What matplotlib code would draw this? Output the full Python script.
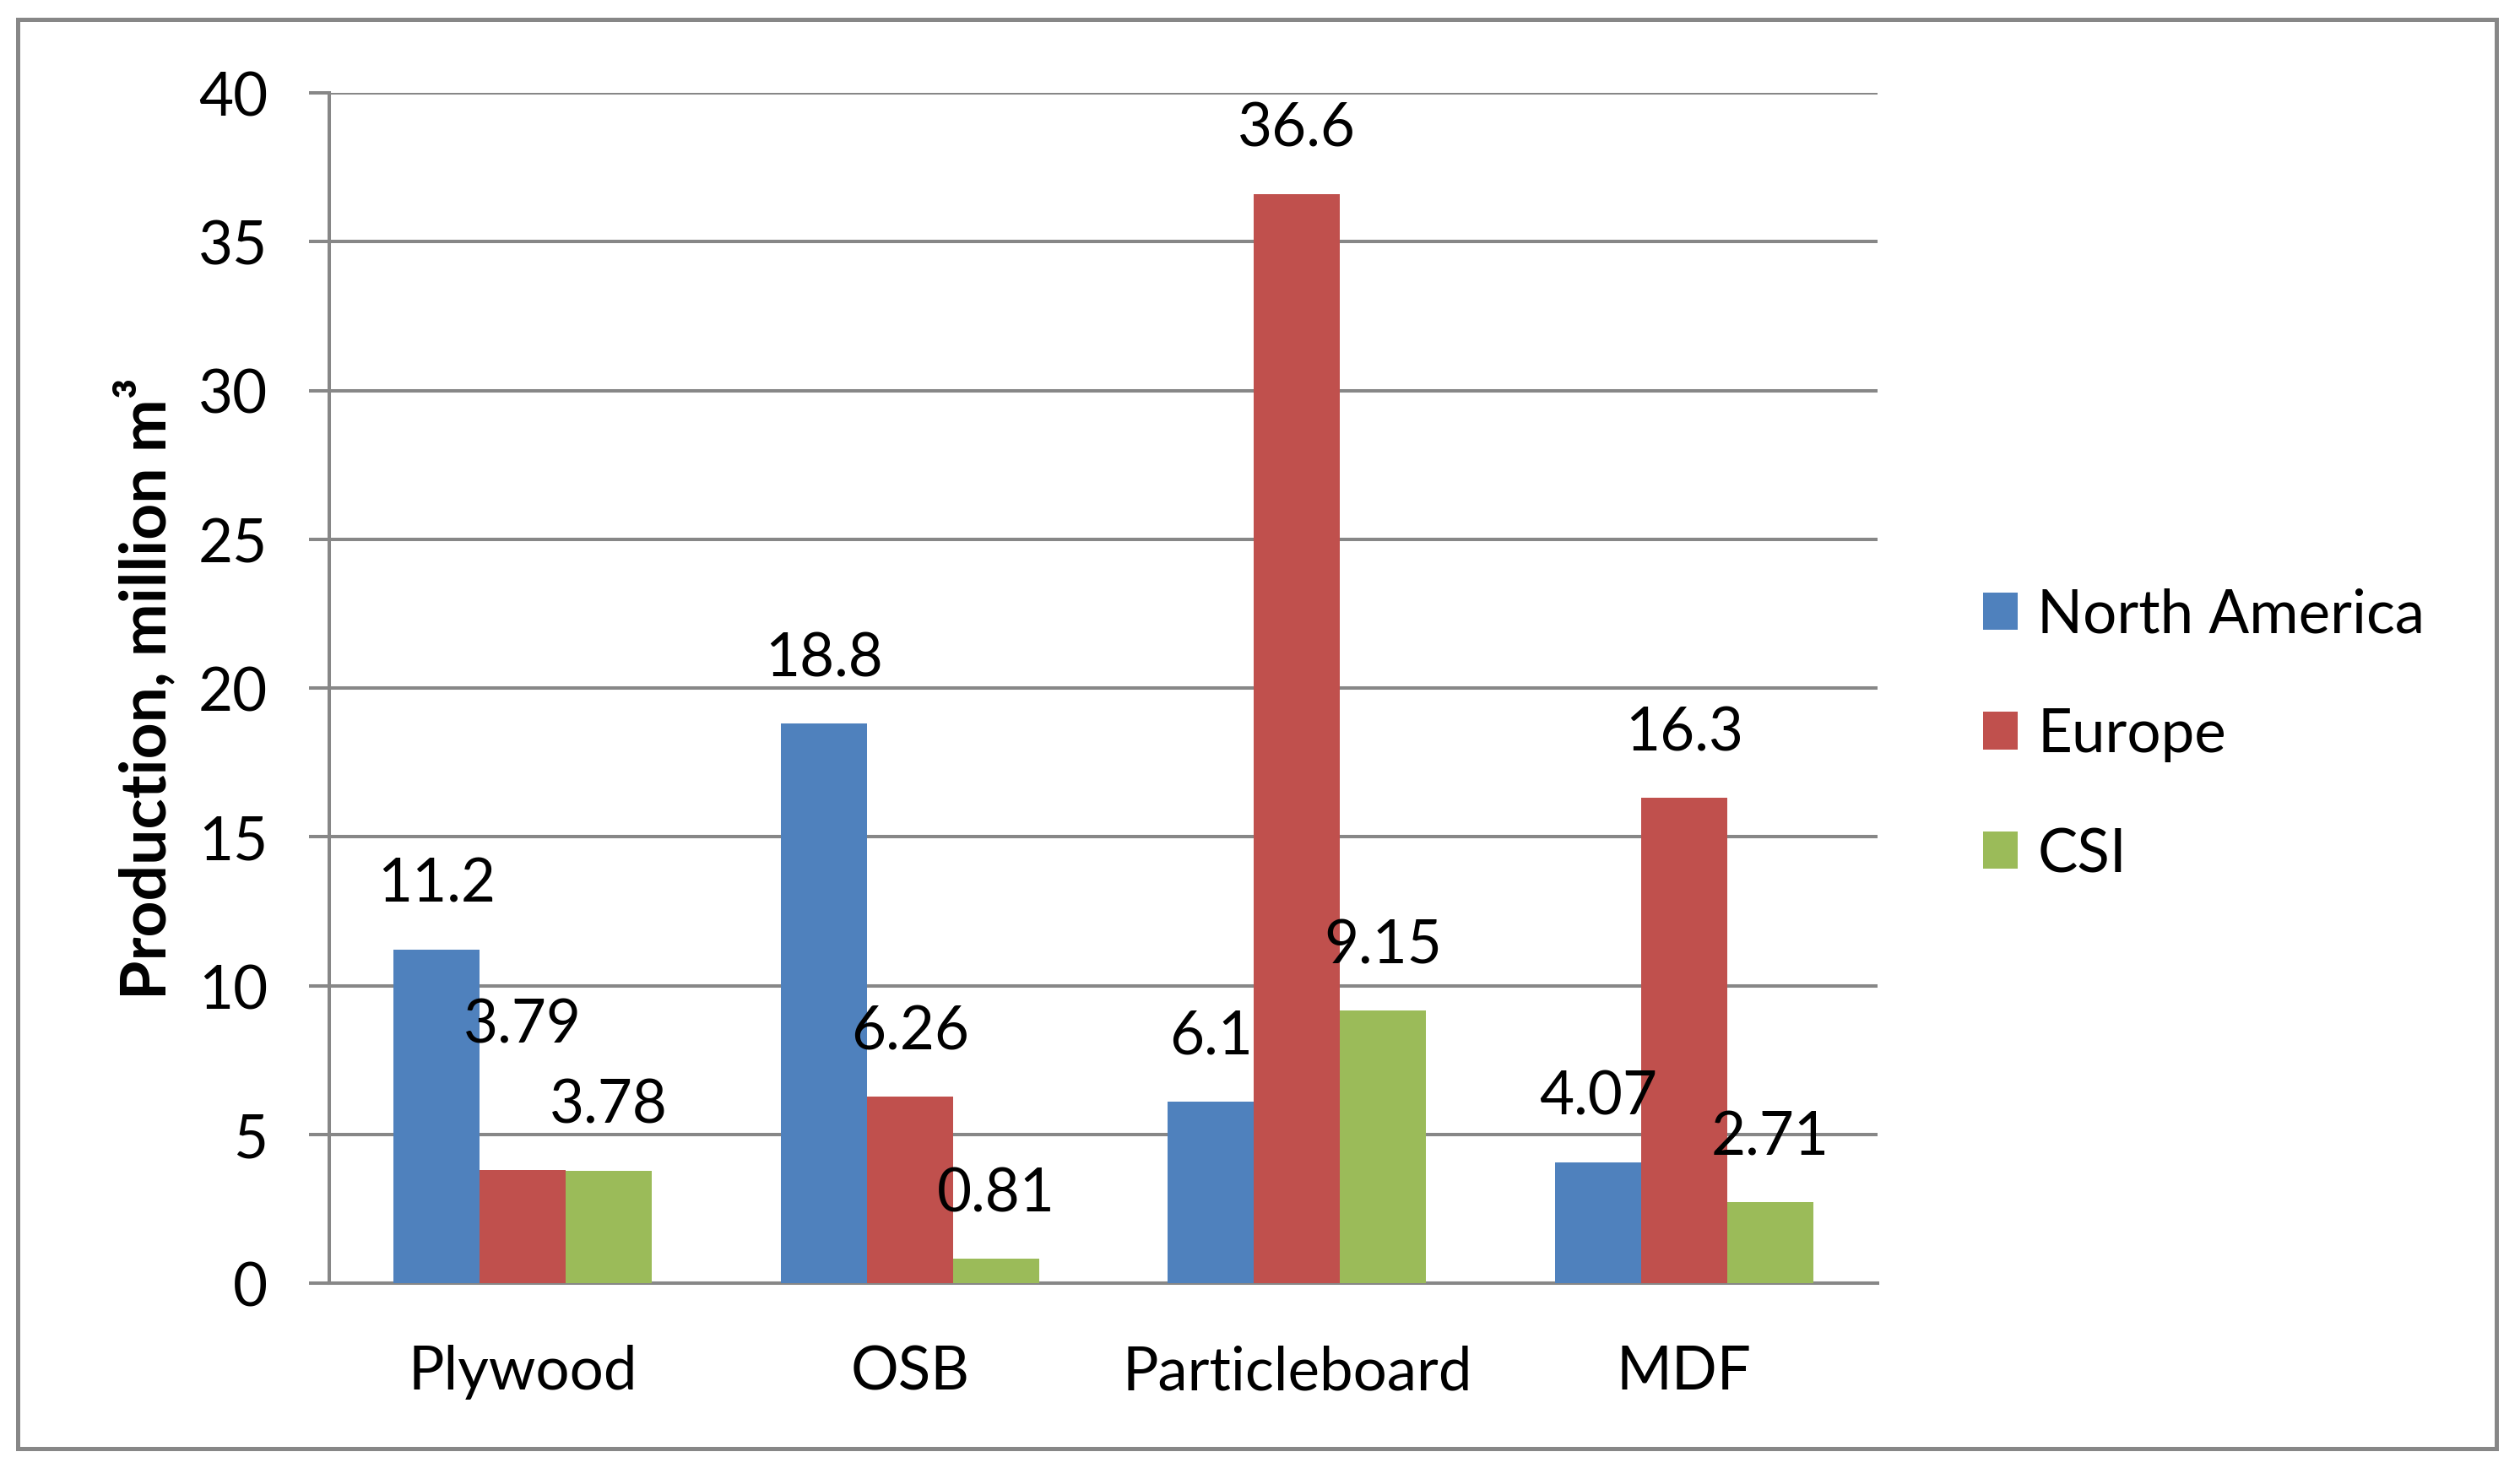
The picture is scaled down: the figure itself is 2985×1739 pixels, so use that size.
import numpy as np
import matplotlib
matplotlib.use("Agg")
import matplotlib.pyplot as plt
from matplotlib.patches import Rectangle

# ---- data ----
categories = ["Plywood", "OSB", "Particleboard", "MDF"]
series_names = ["North America", "Europe", "CSI"]
north_america = [11.2, 18.8, 6.1, 4.07]
europe = [3.79, 6.26, 36.6, 16.3]
csi = [3.78, 0.81, 9.15, 2.71]
value_labels = [["11.2", "18.8", "6.1", "4.07"],
                ["3.79", "6.26", "36.6", "16.3"],
                ["3.78", "0.81", "9.15", "2.71"]]
y_ticks = [0, 5, 10, 15, 20, 25, 30, 35, 40]

# ---- style ----
colors = ["#4F81BD", "#C0504D", "#9BBB59"]
grid_color = "#878787"
FONT = "Lato"
FS = 51
plt.rcParams["font.family"] = [FONT, "DejaVu Sans"]

W, H = 2985, 1740
fig = plt.figure(figsize=(W / 100, H / 100), dpi=100)
fig.patch.set_facecolor("white")

ax_left, ax_right, ax_top, ax_bottom = 390, 2224, 111, 1521
ax = fig.add_axes([ax_left / W, 1 - ax_bottom / H,
                   (ax_right - ax_left) / W, (ax_bottom - ax_top) / H])

x = np.arange(len(categories))
bw = 1 / 4.5
series = [north_america, europe, csi]
base_off = 56  # points above bar top
extra_off = {(1, 0): 68}  # displaced label (Europe, Plywood)

for i, (vals, col, name) in enumerate(zip(series, colors, series_names)):
    pos = x + (i - 1) * bw
    ax.bar(pos, vals, width=bw, color=col, label=name, zorder=3)
    for j, (px, v) in enumerate(zip(pos, vals)):
        ax.annotate(value_labels[i][j], xy=(px, v),
                    xytext=(0, base_off + extra_off.get((i, j), 0)),
                    textcoords="offset points", ha="center", va="center",
                    fontsize=FS, color="black", zorder=5)

ax.set_xlim(-0.5, len(categories) - 0.5)
ax.set_ylim(0, 40)
ax.set_yticks(y_ticks)
ax.set_yticklabels([str(t) for t in y_ticks], fontsize=FS)
ax.set_xticks(x)
ax.set_xticklabels(categories, fontsize=FS)
ax.grid(axis="y", color=grid_color, linewidth=2.9, zorder=0)
ax.set_axisbelow(True)
for s in ["top", "right"]:
    ax.spines[s].set_visible(False)
for s in ["left", "bottom"]:
    ax.spines[s].set_color(grid_color)
    ax.spines[s].set_linewidth(2.9)
ax.tick_params(axis="y", length=17.3, width=2.9, color=grid_color, pad=35)
ax.tick_params(axis="x", length=0, pad=52)

ax.set_ylabel("Production, million m³", fontsize=54, fontweight="bold")
ax.yaxis.set_label_coords((209 - ax_left) / (ax_right - ax_left), 0.5)

leg = ax.legend(loc="center left", bbox_to_anchor=(2349 / W, 1 - 871 / H),
                bbox_transform=fig.transFigure, frameon=False, fontsize=51,
                handlelength=0.58, handleheight=0.58, handletextpad=0.33,
                labelspacing=1.08, borderpad=0, borderaxespad=0)

fig.add_artist(Rectangle((21 / W, 1 - 1717 / H), (2957 - 21) / W, (1717 - 24) / H,
                         transform=fig.transFigure, fill=False,
                         edgecolor=grid_color, linewidth=3.6))

fig.savefig("out.png", dpi=100, facecolor="white")
